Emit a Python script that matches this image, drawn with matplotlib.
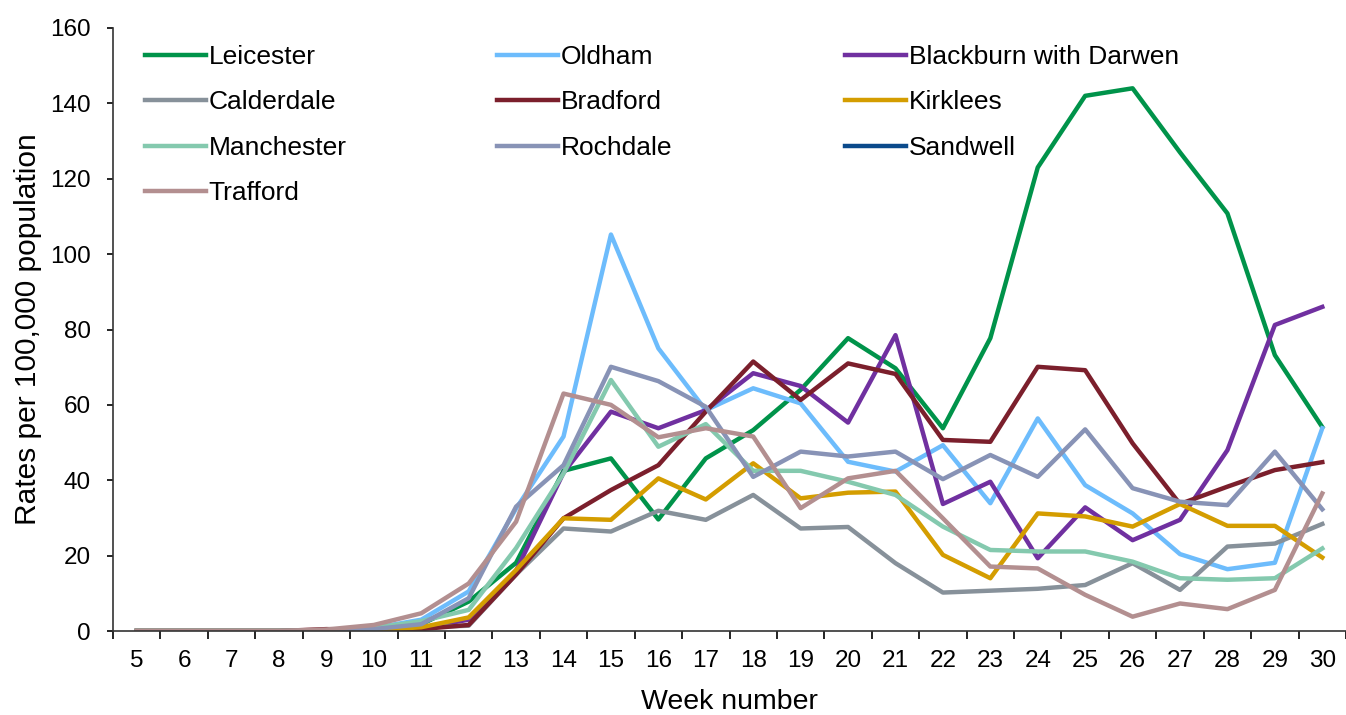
import numpy as np
import matplotlib.pyplot as plt

plt.rcParams['font.family'] = ['Liberation Sans', 'DejaVu Sans']

weeks = list(range(5, 31))

# weekly rates per 100,000 population, weeks 5..30
leicester = [0, 0, 0, 0, 0.2, 0.5, 1.8, 7.8, 18.1, 42.5, 45.8, 29.6, 45.8, 53.3, 64,
             77.7, 69.7, 53.8, 77.7, 123, 142, 144, 127, 110.8, 73.2, 54.1]
oldham = [0, 0, 0, 0, 0.2, 0.8, 3.0, 10.5, 32.5, 51.6, 105.2, 75, 58.6, 64.4, 60.4,
          44.9, 42.3, 49.3, 33.9, 56.4, 38.7, 31.2, 20.4, 16.4, 18.1, 53.8]
blackburn = [0, 0, 0, 0, 0.1, 0.3, 0.8, 3.0, 16, 42, 58.2, 53.8, 58.6, 68.4, 65,
             55.3, 78.5, 33.7, 39.6, 19.3, 32.8, 24.1, 29.5, 48, 81.2, 86]
calderdale = [0, 0, 0, 0, 0.1, 0.3, 1.0, 1.4, 15, 27.2, 26.4, 31.9, 29.5, 36.1, 27.2,
              27.6, 18, 10.2, 10.7, 11.2, 12.2, 18, 10.9, 22.4, 23.2, 28.4]
bradford = [0, 0, 0, 0, 0.5, 0.3, 0.5, 1.6, 15, 29.9, 37.4, 44, 58.2, 71.5, 61.3,
            71, 68.2, 50.7, 50.2, 70.1, 69.2, 49.8, 33.7, 38.3, 42.7, 44.8]
kirklees = [0, 0, 0, 0, 0, 0.2, 1.0, 3.6, 16.2, 29.9, 29.5, 40.5, 34.9, 44.5, 35.2,
            36.7, 37, 20.2, 14, 31.2, 30.4, 27.7, 33.7, 27.9, 27.9, 19.5]
manchester = [0, 0, 0, 0, 0.2, 0.8, 2.6, 5.6, 22, 41.8, 66.6, 48.9, 54.9, 42.5, 42.5,
              39.6, 36.1, 27.7, 21.5, 21.1, 21.1, 18.4, 14, 13.6, 14, 21.9]
rochdale = [0, 0, 0, 0, 0.1, 0.5, 1.8, 8.7, 33, 44, 70.1, 66.3, 59.5, 40.9, 47.6,
            46.3, 47.6, 40.3, 46.7, 40.9, 53.5, 37.9, 34.3, 33.4, 47.6, 32.3]
sandwell = []
trafford = [0, 0, 0, 0, 0.4, 1.6, 4.7, 12.6, 29, 63, 60, 51.4, 53.8, 51.6, 32.6,
            40.5, 42.5, 29.9, 17.1, 16.6, 9.6, 3.8, 7.3, 5.8, 10.9, 36.5]

W, H = 1346, 715
fig = plt.figure(figsize=(W / 100, H / 100), dpi=100)
ax = fig.add_axes([113 / W, 1 - 631 / H, 1 - 113 / W, (631 - 28) / H])

series = [
    ('Leicester', leicester, '#00934a'),
    ('Oldham', oldham, '#6dbcfc'),
    ('Blackburn with Darwen', blackburn, '#7030a0'),
    ('Calderdale', calderdale, '#87919a'),
    ('Bradford', bradford, '#7b1f2c'),
    ('Kirklees', kirklees, '#d49d00'),
    ('Manchester', manchester, '#84c9ae'),
    ('Rochdale', rochdale, '#8893b6'),
    ('Sandwell', sandwell, '#0b4a8b'),
    ('Trafford', trafford, '#b38f90'),
]

handles = {}
for name, vals, col in series:
    h, = ax.plot(weeks[:len(vals)], vals, color=col, lw=3.2, label=name)
    handles[name] = h

# legend: three fixed-width columns like the original
columns = [['Leicester', 'Calderdale', 'Manchester', 'Trafford'],
           ['Oldham', 'Bradford', 'Rochdale'],
           ['Blackburn with Darwen', 'Kirklees', 'Sandwell']]
col_x = [145, 497, 845]
for cx, names in zip(col_x, columns):
    leg = fig.legend([handles[n] for n in names], names, frameon=False,
                     loc='upper left', bbox_to_anchor=(cx / W, 1 - 45 / H),
                     fontsize=19, handlelength=2.3, handletextpad=0.12,
                     labelspacing=0.81, borderpad=0, borderaxespad=0)

ax.set_xlim(4.5, 30.5)
ax.set_ylim(0, 160)
ax.set_yticks(range(0, 161, 20))
ax.set_xticks(weeks)
ax.set_xticks(np.arange(4.5, 31, 1), minor=True)
ax.tick_params(axis='x', which='major', length=0, labelsize=17.5, pad=14)
ax.tick_params(axis='x', which='minor', length=5.5, width=1.2)
ax.tick_params(axis='y', length=4, width=1.2, labelsize=17.5, pad=12)

for s in ['top', 'right']:
    ax.spines[s].set_visible(False)
for s in ['left', 'bottom']:
    ax.spines[s].set_linewidth(1.2)
    ax.spines[s].set_color('#333333')

ax.set_xlabel('Week number', fontsize=20.5, labelpad=12)
ax.set_ylabel('Rates per 100,000 population', fontsize=21.5, labelpad=6)

fig.savefig('out.png', dpi=100)
